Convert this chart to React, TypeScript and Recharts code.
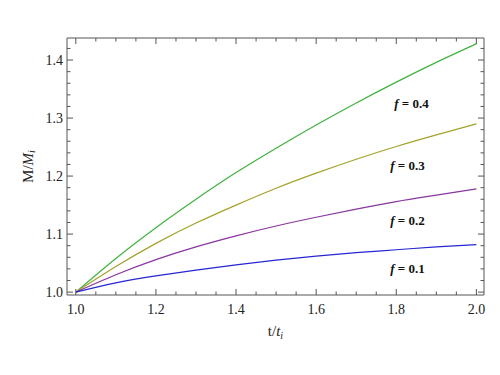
import React from 'react';
import { LineChart, Line, XAxis, YAxis, ReferenceDot } from 'recharts';

// t / t_i sample points
const tValues = [1.0, 1.1, 1.2, 1.3, 1.4, 1.5, 1.6, 1.7, 1.8, 1.9, 2.0];

// M / M_i for each f
const f04 = [1.0, 1.058, 1.111, 1.16, 1.206, 1.248, 1.288, 1.326, 1.362, 1.396, 1.428];
const f03 = [1.0, 1.044, 1.084, 1.119, 1.15, 1.179, 1.205, 1.229, 1.251, 1.271, 1.29];
const f02 = [1.0, 1.03, 1.056, 1.078, 1.097, 1.114, 1.129, 1.143, 1.156, 1.167, 1.178];
const f01 = [1.0, 1.016, 1.028, 1.038, 1.047, 1.055, 1.062, 1.068, 1.073, 1.078, 1.082];

const xTicks = [1.0, 1.05, 1.1, 1.15, 1.2, 1.25, 1.3, 1.35, 1.4, 1.45, 1.5, 1.55, 1.6, 1.65, 1.7, 1.75, 1.8, 1.85, 1.9, 1.95, 2.0];
const yTicks = [1.0, 1.02, 1.04, 1.06, 1.08, 1.1, 1.12, 1.14, 1.16, 1.18, 1.2, 1.22, 1.24, 1.26, 1.28, 1.3, 1.32, 1.34, 1.36, 1.38, 1.4, 1.42];

// curve annotations
const annoText = ['0.4', '0.3', '0.2', '0.1'];
const annoX = [1.838, 1.828, 1.828, 1.828];
const annoY = [1.3265, 1.2194, 1.125, 1.0407];

const series = [
  { key: 'f04', color: '#3fb23f', values: f04 },
  { key: 'f03', color: '#a3a22a', values: f03 },
  { key: 'f02', color: '#8a35a0', values: f02 },
  { key: 'f01', color: '#2626d2', values: f01 },
];

const data = tValues.map((t, i) => {
  const row: { [k: string]: number } = { t };
  series.forEach((s) => {
    row[s.key] = s.values[i];
  });
  return row;
});

const X_DOMAIN = [0.978, 2.019];
const Y_DOMAIN = [0.995, 1.438];
const FRAME = '#555';
const SERIF = { fontFamily: '"Liberation Serif", "DejaVu Serif", serif' };

const isMajorX = (v: number) => Math.abs(v * 5 - Math.round(v * 5)) < 1e-6;
const isMajorY = (v: number) => Math.abs(v * 10 - Math.round(v * 10)) < 1e-6;

const BottomTick = (props: any) => {
  const { x, y, payload } = props;
  const major = isMajorX(payload.value);
  return (
    <g>
      <line x1={x} y1={y} x2={x} y2={y - (major ? 6 : 3.5)} stroke={FRAME} strokeWidth={1} />
      {major && (
        <text x={x} y={y + 19} textAnchor="middle" style={SERIF} fontSize={14} fill="#222">
          {payload.value.toFixed(1)}
        </text>
      )}
    </g>
  );
};

const TopTick = (props: any) => {
  const { x, y, payload } = props;
  const major = isMajorX(payload.value);
  return <line x1={x} y1={y} x2={x} y2={y + (major ? 6 : 3.5)} stroke={FRAME} strokeWidth={1} />;
};

const LeftTick = (props: any) => {
  const { x, y, payload } = props;
  const major = isMajorY(payload.value);
  return (
    <g>
      <line x1={x} y1={y} x2={x + (major ? 6 : 3.5)} y2={y} stroke={FRAME} strokeWidth={1} />
      {major && (
        <text x={x - 4} y={y} textAnchor="end" dominantBaseline="central" style={SERIF} fontSize={14} fill="#222">
          {payload.value.toFixed(1)}
        </text>
      )}
    </g>
  );
};

const RightTick = (props: any) => {
  const { x, y, payload } = props;
  const major = isMajorY(payload.value);
  return <line x1={x} y1={y} x2={x - (major ? 6 : 3.5)} y2={y} stroke={FRAME} strokeWidth={1} />;
};

const XTitle = (props: any) => {
  const vb = props.viewBox;
  return (
    <text x={vb.x + vb.width / 2} y={vb.y + 41} textAnchor="middle" style={SERIF} fontSize={15} fill="#222">
      <tspan>t/</tspan>
      <tspan fontStyle="italic">t</tspan>
      <tspan fontStyle="italic" fontSize={10} dy={3}>i</tspan>
    </text>
  );
};

const YTitle = (props: any) => {
  const vb = props.viewBox;
  const cx = 28;
  const cy = vb.y + vb.height / 2;
  return (
    <text
      x={cx}
      y={cy}
      textAnchor="middle"
      dominantBaseline="central"
      transform={`rotate(-90, ${cx}, ${cy})`}
      style={SERIF}
      fontSize={15}
      fill="#222"
    >
      <tspan>M/</tspan>
      <tspan fontStyle="italic">M</tspan>
      <tspan fontStyle="italic" fontSize={10} dy={3}>i</tspan>
    </text>
  );
};

const AnnoLabel = (props: any) => {
  const { viewBox, text } = props;
  const cx = viewBox.cx ?? viewBox.x;
  const cy = viewBox.cy ?? viewBox.y;
  return (
    <text x={cx} y={cy} textAnchor="middle" dominantBaseline="central" style={SERIF} fontSize={13} fontWeight="bold" fill="#111">
      <tspan fontStyle="italic">f</tspan>
      <tspan> = {text}</tspan>
    </text>
  );
};

export default function App() {
  return (
    <div style={{ position: 'absolute', left: 0, top: 0, background: '#fff' }}>
      <LineChart width={500} height={375} data={data} margin={{ top: 37, right: 15, left: 0, bottom: 35 }}>
        <XAxis
          xAxisId="b"
          dataKey="t"
          type="number"
          orientation="bottom"
          domain={X_DOMAIN}
          allowDataOverflow
          ticks={xTicks}
          interval={0}
          tick={BottomTick}
          tickLine={false}
          tickSize={0}
          tickMargin={0}
          height={45}
          axisLine={{ stroke: FRAME }}
          label={<XTitle />}
        />
        <XAxis
          xAxisId="t"
          dataKey="t"
          type="number"
          orientation="top"
          domain={X_DOMAIN}
          allowDataOverflow
          ticks={xTicks}
          interval={0}
          tick={TopTick}
          tickLine={false}
          tickSize={0}
          tickMargin={0}
          height={1}
          axisLine={{ stroke: FRAME }}
        />
        <YAxis
          yAxisId="l"
          type="number"
          orientation="left"
          domain={Y_DOMAIN}
          allowDataOverflow
          ticks={yTicks}
          interval={0}
          tick={LeftTick}
          tickLine={false}
          tickSize={0}
          tickMargin={0}
          width={67}
          axisLine={{ stroke: FRAME }}
          label={<YTitle />}
        />
        <YAxis
          yAxisId="r"
          type="number"
          orientation="right"
          domain={Y_DOMAIN}
          allowDataOverflow
          ticks={yTicks}
          interval={0}
          tick={RightTick}
          tickLine={false}
          tickSize={0}
          tickMargin={0}
          width={1}
          axisLine={{ stroke: FRAME }}
        />
        {series.map((s) => (
          <Line
            key={s.key}
            xAxisId="b"
            yAxisId="l"
            type="natural"
            dataKey={s.key}
            stroke={s.color}
            strokeWidth={1.2}
            dot={false}
            isAnimationActive={false}
          />
        ))}
        {annoText.map((txt, i) => (
          <ReferenceDot
            key={txt}
            xAxisId="b"
            yAxisId="l"
            x={annoX[i]}
            y={annoY[i]}
            r={0}
            stroke="none"
            fill="none"
            label={<AnnoLabel text={txt} />}
          />
        ))}
      </LineChart>
    </div>
  );
}
